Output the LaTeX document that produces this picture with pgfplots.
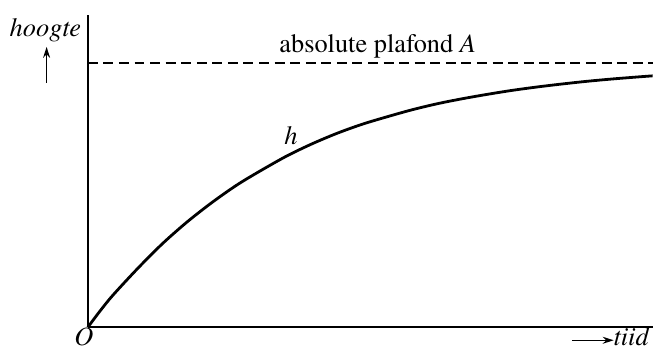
\documentclass[border=0pt]{standalone}
\usepackage{fontspec}
\setmainfont{TeX Gyre Termes}
\usepackage{pgfplots}
\pgfplotsset{compat=1.18}
\usetikzlibrary{arrows.meta}

\begin{document}
\begin{tikzpicture}[every node/.style={font=\fontsize{26.5}{30}\selectfont}]
\begin{axis}[
    x=1bp, y=1bp,
    xmin=0, xmax=566,
    ymin=0, ymax=313,
    axis lines=left,
    axis line style={-, line width=2bp},
    ticks=none,
    clip=false,
]
% bounding box of the picture (654 x 352)
\path (axis cs:-88,-24) rectangle (axis cs:566,328);

% absolute ceiling
\addplot[black, line width=1.8bp, dash pattern=on 10bp off 5.6bp]
    coordinates {(0,265) (566,265)};

% height curve h
\addplot[black, line width=2.8bp, smooth] coordinates {
    (0,0) (12,16) (25,32) (50,59) (75,84) (100,106) (125,125.5) (150,143)
    (175,158) (200,172) (225,184) (250,194.5) (275,203.5) (300,211)
    (325,218) (350,224) (375,229) (400,233.4) (425,237.4) (450,240.8)
    (475,243.8) (500,246.5) (525,248.8) (550,250.8) (566,252)
};

\node[anchor=base] at (axis cs:290.5,275) {absolute plafond \textit{A}};
\node[anchor=base] at (axis cs:203.5,183) {\textit{h}};
\node[anchor=base] at (axis cs:-42.5,291) {\textit{hoogte}};
\node[anchor=base] at (axis cs:-4,-18) {\textit{O}};
\node[anchor=base east, inner xsep=1bp] at (axis cs:564,-18) {\textit{tiid}};
\draw[line width=1.2bp, -{Stealth[length=11bp,width=7bp]}]
    (axis cs:-41.3,245) -- (axis cs:-41.3,281);
\draw[line width=1.2bp, -{Stealth[length=11bp,width=7bp]}]
    (axis cs:485,-13) -- (axis cs:527,-13);
\end{axis}
\end{tikzpicture}
\end{document}
